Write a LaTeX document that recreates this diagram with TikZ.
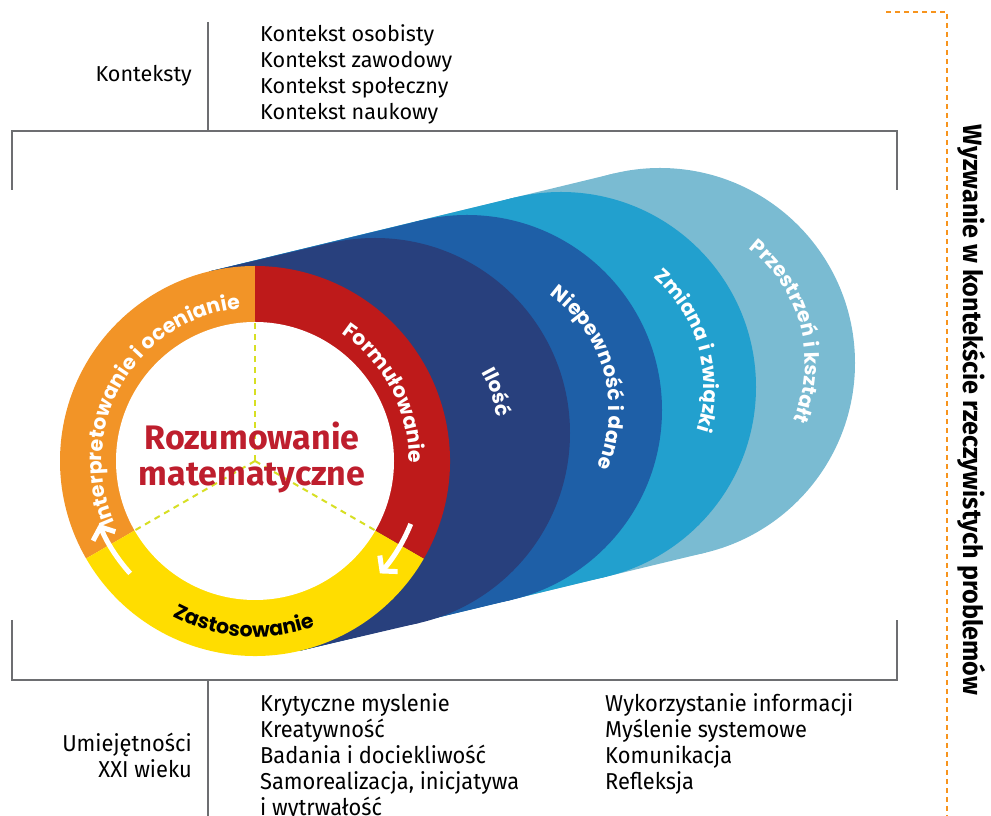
\documentclass[tikz,border=0pt]{standalone}
\usepackage{fontspec}
\setmainfont{Fira Sans}
\newfontfamily\condfont[FakeStretch=0.95]{Fira Sans}
\newfontfamily\popfont{Poppins}
\usetikzlibrary{calc,decorations.text,arrows.meta}
\definecolor{cOrange}{HTML}{F29427}
\definecolor{cRed}{HTML}{BE1A1A}
\definecolor{cYellow}{HTML}{FFDD00}
\definecolor{cNavy}{HTML}{28407D}
\definecolor{cBlue}{HTML}{1E5FA7}
\definecolor{cCyan}{HTML}{22A0CE}
\definecolor{cLight}{HTML}{7ABBD2}
\definecolor{cText}{HTML}{BE1E2D}
\definecolor{cGray}{HTML}{6D6E71}
\definecolor{cDash}{HTML}{F7941D}
\definecolor{cLime}{HTML}{D7DF23}
\tikzset{
  grayline/.style={draw=cGray, line width=2.6pt},
  orangedash/.style={draw=cDash, line width=2.2pt, dash pattern=on 5pt off 4pt},
  limedash/.style={draw=cLime, line width=2pt, dash pattern=on 6pt off 5pt},
  toptext/.style={font=\fontsize{21.6}{24}\selectfont, text=black, inner sep=0pt},
  bottext/.style={font=\condfont\fontsize{23}{26}\selectfont, text=black, inner sep=0pt},
  vtext/.style={font=\condfont\bfseries\fontsize{26.5}{28}\selectfont, text=black, inner sep=0pt},
  centertext/.style={font=\bfseries\fontsize{34}{36}\selectfont, text=cText, inner sep=0pt},
  ringarrow/.style={draw=white, line width=5pt, -{Straight Barb[length=10pt,width=24pt]}},
}
\newcommand\ringfont{\popfont\bfseries\fontsize{20.5}{20.5}\selectfont}
\newcommand\bluefont{\popfont\bfseries\fontsize{20}{20}\selectfont}
\begin{document}
\begin{tikzpicture}[x=1pt,y=1pt]
\useasboundingbox (0,0) rectangle (991,816);
% centres
\coordinate (R) at (255,355);
\coordinate (C1) at (375,383);
\coordinate (C2) at (467,406);
\coordinate (C3) at (561,429);
\coordinate (C4) at (660,453);
% blue hull shapes
\foreach \c/\col in {C4/cLight, C3/cCyan, C2/cBlue, C1/cNavy} {
  \fill[\col] ($(R)!195pt!90:(\c)$) -- ($(\c)!195pt!-90:(R)$) -- ($(\c)!195pt!90:(R)$) -- ($(R)!195pt!-90:(\c)$) -- cycle;
  \fill[\col] (\c) circle[radius=195];
}
% ring
\fill[cOrange] (R) -- ++(90:195) arc[start angle=90,end angle=210,radius=195] -- cycle;
\fill[cYellow] (R) -- ++(210:195) arc[start angle=210,end angle=330,radius=195] -- cycle;
\fill[cRed] (R) -- ++(-30:195) arc[start angle=-30,end angle=90,radius=195] -- cycle;
\fill[white] (R) circle[radius=139];
\foreach \a in {90,210,330} \draw[limedash] (R) -- ++(\a:139);
% centre text
\node[centertext, anchor=base] (rz1) at (252,366) {Rozumowanie};
\node[centertext, anchor=base] (rz2) at (252,330) {matematyczne};
% ring labels
\path[decorate, decoration={text along path, text align=center,
  text={|\ringfont\color{white}|Interpretowanie i ocenianie}}]
  ($(R)+(219.6:153)$) arc[start angle=219.6, end angle=79.6, radius=153];
\path[decorate, decoration={text along path, text align=center,
  text={|\ringfont\color{white}|Formułowanie}}]
  ($(R)+(82.6:154)$) arc[start angle=82.6, end angle=-27.4, radius=154];
\path[decorate, decoration={text along path, text align=center,
  text={|\ringfont\color{black}|Zastosowanie}}]
  ($(R)+(216:176)$) arc[start angle=216, end angle=316, radius=176];
% arrows
\coordinate (a1s) at ($(R)+(222:168)$);
\coordinate (a2s) at ($(R)+(-22:168)$);
\draw[ringarrow] (a1s) arc[start angle=222,end angle=202,radius=168];
\draw[ringarrow] (a2s) arc[start angle=-22,end angle=-42,radius=168];
% blue labels
\path[decorate, decoration={text along path, text align=center,
  text={|\bluefont\color{white}|Ilość}}]
  ($(C1)+(48.5:123)$) arc[start angle=48.5, end angle=-11.5, radius=123];
\path[decorate, decoration={text along path, text align=center,
  text={|\bluefont\color{white}|Niepewność i dane}}]
  ($(C2)+(70.3:142)$) arc[start angle=70.3, end angle=-39.7, radius=142];
\path[decorate, decoration={text along path, text align=center,
  text={|\bluefont\color{white}|Zmiana i związki}}]
  ($(C3)+(71.1:143)$) arc[start angle=71.1, end angle=-38.9, radius=143];
\path[decorate, decoration={text along path, text align=center,
  text={|\bluefont\color{white}|Przestrzeń i kształt}}]
  ($(C4)+(69.5:145)$) arc[start angle=69.5, end angle=-40.5, radius=145];
% brackets
\coordinate (tv1) at (208,794); \coordinate (tv2) at (208,685);
\coordinate (tl) at (12,685); \coordinate (tr) at (897,685);
\coordinate (tl2) at (12,626); \coordinate (tr2) at (897,626);
\draw[grayline] (tv1) -- (tv2);
\draw[grayline] (tl2) -- (tl) -- (tr) -- (tr2);
\coordinate (bv1) at (208,136); \coordinate (bv2) at (208,-5);
\coordinate (bl) at (12,136); \coordinate (br) at (897,136);
\coordinate (bl2) at (12,196); \coordinate (br2) at (897,196);
\draw[grayline] (bv1) -- (bv2);
\draw[grayline] (bl2) -- (bl) -- (br) -- (br2);
% orange dashed
\coordinate (o1) at (886,804); \coordinate (o2) at (947,804); \coordinate (o3) at (947,-5);
\draw[orangedash] (o1) -- (o2) -- (o3);
% top texts
\node[toptext, anchor=base east] (kx) at (192,734) {Konteksty};
\node[toptext, anchor=base west] (k1) at (260,774) {Kontekst osobisty};
\node[toptext, anchor=base west] (k2) at (260,748) {Kontekst zawodowy};
\node[toptext, anchor=base west] (k3) at (260,722) {Kontekst społeczny};
\node[toptext, anchor=base west] (k4) at (260,696) {Kontekst naukowy};
% bottom texts
\node[bottext, anchor=base east] (u1) at (192,64) {Umiejętności};
\node[bottext, anchor=base east] (u2) at (192,38) {XXI wieku};
\node[bottext, anchor=base west] (b1) at (260,104) {Krytyczne myslenie};
\node[bottext, anchor=base west] (b2) at (260,78) {Kreatywność};
\node[bottext, anchor=base west] (b3) at (260,52) {Badania i dociekliwość};
\node[bottext, anchor=base west] (b4) at (260,26) {Samorealizacja, inicjatywa};
\node[bottext, anchor=base west] (b5) at (260,0) {i wytrwałość};
\node[bottext, anchor=base west] (c1) at (605,104) {Wykorzystanie informacji};
\node[bottext, anchor=base west] (c2) at (605,78) {Myślenie systemowe};
\node[bottext, anchor=base west] (c3) at (605,52) {Komunikacja};
\node[bottext, anchor=base west] (c4) at (605,26) {Refleksja};
% vertical text
\node[vtext, rotate=-90] (wyz) at (972,406) {Wyzwanie w kontekście rzeczywistych problemów};
\end{tikzpicture}
\end{document}
